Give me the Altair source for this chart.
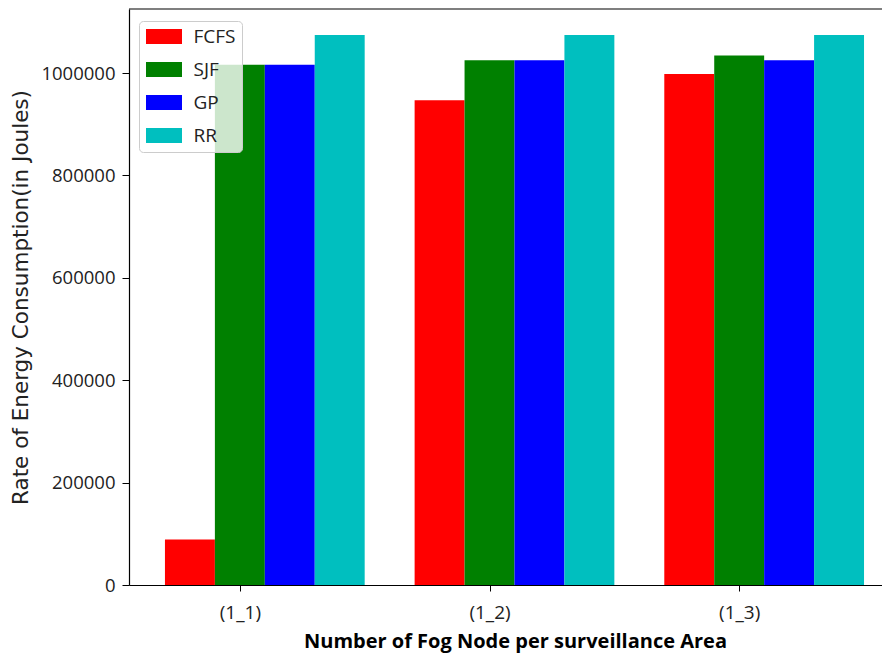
import altair as alt
import pandas as pd

groups = ["(1_1)", "(1_2)", "(1_3)"]
series = ["FCFS", "SJF", "GP", "RR"]
colors = ["#ff0000", "#008000", "#0000ff", "#00bfbf"]
fcfs = [89000, 947000, 998000]
sjf = [1016000, 1025000, 1034000]
gp = [1016000, 1025000, 1025000]
rr = [1074000, 1074000, 1074000]
y_ticks = [0, 200000, 400000, 600000, 800000, 1000000]

values = {"FCFS": fcfs, "SJF": sjf, "GP": gp, "RR": rr}
bar_w = 0.2
rows = []
for gi, g in enumerate(groups):
    for si, s in enumerate(series):
        x0 = gi - bar_w / 2 + si * bar_w
        rows.append({"group": g, "series": s, "x0": x0, "x1": x0 + bar_w,
                     "value": values[s][gi]})
df = pd.DataFrame(rows)

YMAX = 1125000
XMIN, XMAX = -0.244, 2.772
tick_pos = [gi + bar_w for gi in range(len(groups))]
label_expr = " : ".join(
    [f"datum.value < {p + 0.5} ? '{g}'" for p, g in zip(tick_pos[:-1], groups[:-1])]
    + [f"'{groups[-1]}'"]
)

bars = alt.Chart(df).mark_bar(clip=True).encode(
    x=alt.X("x0:Q", scale=alt.Scale(domain=[XMIN, XMAX], nice=False, zero=False),
            axis=alt.Axis(values=tick_pos, labelExpr=label_expr,
                          title="Number of Fog Node per surveillance Area",
                          titleFont="Open Sans", titleFontWeight="bold", titleFontSize=20,
                          titleX=386, titleY=56, titleBaseline="middle", titleAlign="center",
                          labelFont="Open Sans", labelFontSize=19, labelPadding=12,
                          tickSize=6, grid=False, domainColor="black", tickColor="black",
                          labelColor="#222222", titleColor="black")),
    x2="x1:Q",
    y=alt.Y("value:Q", scale=alt.Scale(domain=[0, YMAX], nice=False),
            axis=alt.Axis(values=y_ticks, format="d",
                          title="Rate of Energy Consumption(in Joules)",
                          titleFont="DejaVu Sans", titleFontWeight="normal", titleFontSize=21.5,
                          titleX=-108, titleY=288, titleAngle=270, titleBaseline="middle",
                          titleAlign="center",
                          labelFont="Open Sans", labelFontSize=18.5, labelPadding=7,
                          tickSize=7, grid=False, domainColor="black", tickColor="black",
                          labelColor="#222222", titleColor="#222222")),
    y2=alt.datum(0),
    color=alt.Color("series:N", scale=alt.Scale(domain=series, range=colors),
                    sort=series,
                    legend=alt.Legend(title=None, orient="none", legendX=10, legendY=12,
                                      fillColor="rgba(255,255,255,0.8)", strokeColor="#cccccc",
                                      cornerRadius=4, padding=6,
                                      symbolType="M-2.4,-1L2.4,-1L2.4,1L-2.4,1Z",
                                      symbolSize=225, symbolStrokeWidth=0, symbolOpacity=1,
                                      symbolOffset=9.5,
                                      labelFont="Open Sans", labelFontSize=19,
                                      labelColor="#222222", labelOffset=20, rowPadding=13)),
)

top = alt.Chart(pd.DataFrame({"y": [YMAX]})).mark_rule(color="black", strokeWidth=1.2).encode(
    y="y:Q"
)

chart = alt.layer(bars, top).properties(
    width=753, height=576,
    autosize=alt.AutoSizeParams(type="none"),
    padding={"left": 121, "top": 1, "right": 0, "bottom": 72},
).configure_view(stroke=None).configure_axis(domainWidth=1.2)

chart.save("out.html", embed_options={"renderer": "svg", "actions": False})
